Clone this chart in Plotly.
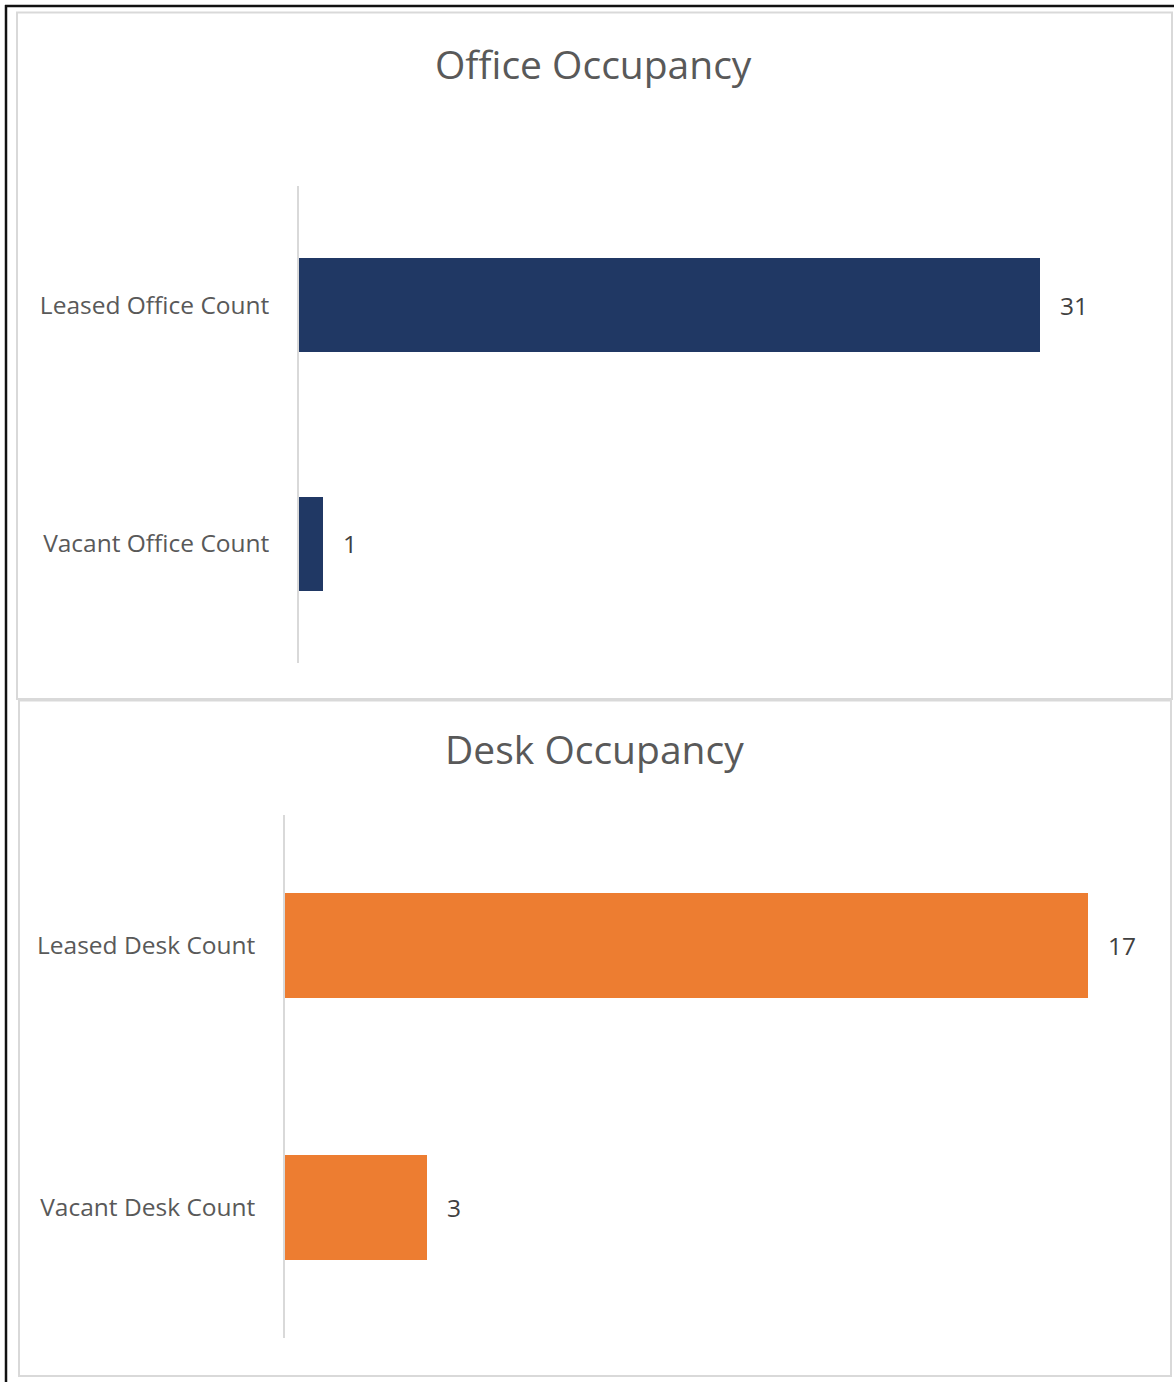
import plotly.graph_objects as go

W, H = 1174, 1382

# Office occupancy data
office_categories = ["Leased Office Count", "Vacant Office Count"]
office_values = [31, 1]

# Desk occupancy data
desk_categories = ["Leased Desk Count", "Vacant Desk Count"]
desk_values = [17, 3]

NAVY = "#203864"
ORANGE = "#ED7D31"
TEXT = "#595959"
FONT = "Open Sans"
LABEL_SIZE = 24.5
TITLE_SIZE = 39


def px_x(p):
    return p / W


def px_y(p):
    return 1 - p / H


fig = go.Figure()

fig.add_trace(go.Bar(
    x=office_values, y=office_categories, orientation="h",
    marker=dict(color=NAVY, line=dict(width=0)),
    width=0.395, xaxis="x", yaxis="y", showlegend=False,
))
fig.add_trace(go.Bar(
    x=desk_values, y=desk_categories, orientation="h",
    marker=dict(color=ORANGE, line=dict(width=0)),
    width=0.40, xaxis="x2", yaxis="y2", showlegend=False,
))

axis_common = dict(showgrid=False, zeroline=False, showticklabels=False,
                   showline=False, ticks="", fixedrange=True)
cat_common = dict(showgrid=False, zeroline=False, showline=True,
                  linecolor="#d9d9d9", linewidth=1.5, ticks="",
                  tickfont=dict(family=FONT, size=LABEL_SIZE, color=TEXT),
                  ticklabelstandoff=23, autorange="reversed", type="category")

fig.update_layout(
    width=W, height=H,
    margin=dict(l=0, r=0, t=0, b=0),
    paper_bgcolor="white", plot_bgcolor="white",
    bargap=0,
    xaxis=dict(domain=[px_x(299), px_x(1150)], range=[0, 851 / 23.9],
               anchor="y", **axis_common),
    yaxis=dict(domain=[px_y(663), px_y(186)], anchor="x", **cat_common),
    xaxis2=dict(domain=[px_x(285), px_x(1150)], range=[0, 865 / 47.25],
                anchor="y2", **axis_common),
    yaxis2=dict(domain=[px_y(1338), px_y(815)], anchor="x2", **cat_common),
)

# Value labels next to each bar
annotations = []
for cat, val in zip(office_categories, office_values):
    annotations.append(dict(x=val, y=cat, xref="x", yref="y", text=str(val),
                            showarrow=False, xanchor="left", xshift=18,
                            font=dict(family=FONT, size=LABEL_SIZE, color="#404040")))
for cat, val in zip(desk_categories, desk_values):
    annotations.append(dict(x=val, y=cat, xref="x2", yref="y2", text=str(val),
                            showarrow=False, xanchor="left", xshift=18,
                            font=dict(family=FONT, size=LABEL_SIZE, color="#404040")))

# Chart titles
annotations.append(dict(x=px_x(594), y=px_y(64), xref="paper", yref="paper",
                        text="Office Occupancy", showarrow=False,
                        xanchor="center", yanchor="middle",
                        font=dict(family=FONT, size=TITLE_SIZE, color=TEXT)))
annotations.append(dict(x=px_x(594.5), y=px_y(748), xref="paper", yref="paper",
                        text="Desk Occupancy", showarrow=False,
                        xanchor="center", yanchor="middle",
                        font=dict(family=FONT, size=TITLE_SIZE, color=TEXT)))

shapes = [
    # panel frames
    dict(type="rect", xref="paper", yref="paper",
         x0=px_x(17), x1=px_x(1172), y0=px_y(699), y1=px_y(12.5),
         line=dict(color="#d9d9d9", width=2)),
    dict(type="rect", xref="paper", yref="paper",
         x0=px_x(19), x1=px_x(1171), y0=px_y(1376), y1=px_y(700.5),
         line=dict(color="#d9d9d9", width=2)),
    # outer dark edge on left and top
    dict(type="line", xref="paper", yref="paper",
         x0=px_x(6), x1=px_x(6), y0=px_y(5), y1=0,
         line=dict(color="#111111", width=2.5)),
    dict(type="line", xref="paper", yref="paper",
         x0=px_x(5), x1=1, y0=px_y(6), y1=px_y(6),
         line=dict(color="#111111", width=2.5)),
]

fig.update_layout(annotations=annotations, shapes=shapes)

fig.write_html("out.html")
